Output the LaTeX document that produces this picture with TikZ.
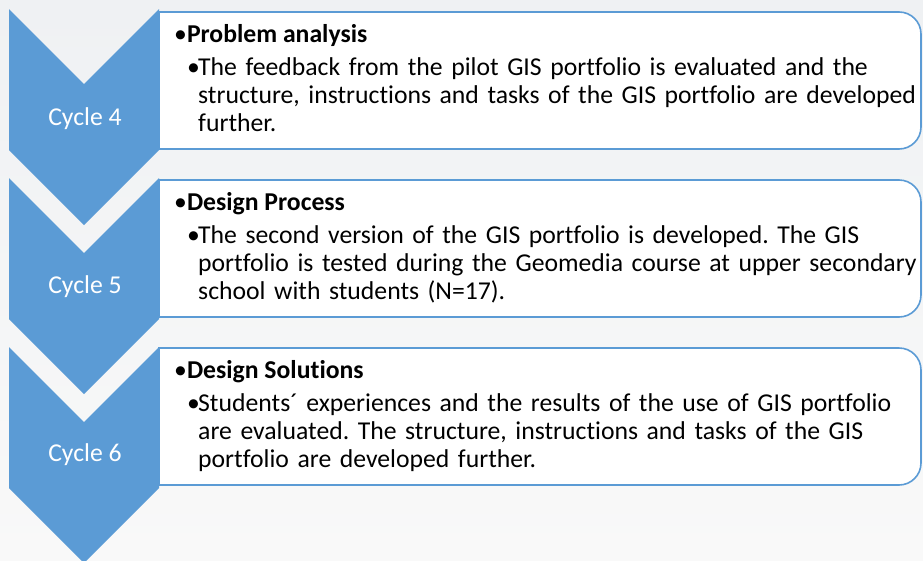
\documentclass[tikz,border=0pt]{standalone}
\usepackage{fontspec}
\setmainfont{Carlito}[Ligatures=NoCommon]
\frenchspacing
\definecolor{chev}{HTML}{5B9BD5}
\definecolor{bgtop}{HTML}{EFF1F3}
\definecolor{bgbot}{HTML}{F9F9F9}
\tikzset{
  chevshape/.style={fill=chev, draw=none},
  boxshape/.style={fill=white, draw=chev, line width=1.6pt},
  cyclelabel/.style={text=white, inner sep=0pt, anchor=base, font=\fontsize{25.7}{28}\selectfont},
  headtext/.style={inner sep=0pt, anchor=base west, font=\fontsize{25.7}{28}\selectfont},
  bullettext/.style={inner sep=0pt, anchor=base west, font=\fontsize{25.7}{28}\selectfont},
  bodytext/.style={inner sep=0pt, anchor=base west, text width=722pt, align=left, font=\fontsize{25.7}{28}\selectfont},
}
\begin{document}
\begin{tikzpicture}[x=1pt,y=-1pt]
\shade[top color=bgtop, bottom color=bgbot] (0,0) rectangle (923,560);
\useasboundingbox (0,0) rectangle (923,560);
\begin{scope}
\clip (0,0) rectangle (923,560);
\foreach \i in {0,1,2}{
  \pgfmathsetmacro{\dy}{169*\i}
  \fill[chevshape] (9,9+\dy) -- (84,84+\dy) -- (159,9+\dy) -- (159,150+\dy) -- (84,225+\dy) -- (9,150+\dy) -- cycle;
}
\foreach \i in {0,1,2}{
  \pgfmathsetmacro{\tp}{12+168*\i}
  \pgfmathsetmacro{\bt}{149+168*\i}
  \draw[boxshape] (159,\tp) -- (899,\tp) arc[start angle=-90, end angle=0, radius=22] -- (921,\bt-22) arc[start angle=0, end angle=90, radius=22] -- (159,\bt) -- cycle;
}
\end{scope}
% cycle labels
\node[cyclelabel] (c4) at (85,125) {Cycle 4};
\node[cyclelabel] (c5) at (85,293) {Cycle 5};
\node[cyclelabel] (c6) at (85,461) {Cycle 6};
% box 1
\node[headtext] (h1) at (174,42) {•\textbf{Problem analysis}};
\node[bullettext] (b1) at (187,75) {•};
\node[bodytext] (t1) at (198,75) {The feedback from the pilot GIS portfolio is evaluated and the\\structure, instructions and tasks of the GIS portfolio are developed\\further.};
% box 2
\node[headtext] (h2) at (174,210) {•\textbf{Design Process}};
\node[bullettext] (b2) at (187,243) {•};
\node[bodytext] (t2) at (198,243) {The second version of the GIS portfolio is developed. The GIS\\portfolio is tested during the Geomedia course at upper secondary\\school with students (N=17).};
% box 3
\node[headtext] (h3) at (174,378) {•\textbf{Design Solutions}};
\node[bullettext] (b3) at (187,411) {•};
\node[bodytext] (t3) at (198,411) {Students´ experiences and the results of the use of GIS portfolio\\are evaluated. The structure, instructions and tasks of the GIS\\portfolio are developed further.};
\end{tikzpicture}
\end{document}
